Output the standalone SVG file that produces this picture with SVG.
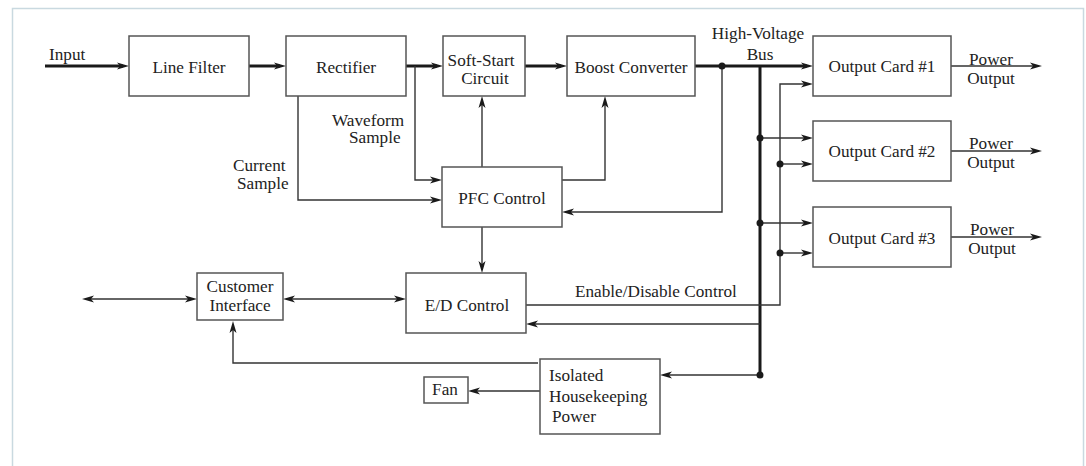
<svg xmlns="http://www.w3.org/2000/svg" width="1086" height="466" viewBox="0 0 1086 466">
<style>
.box{fill:#fff;stroke:#555;stroke-width:1.5}
.t{font-family:"Liberation Serif","Times New Roman",serif;font-size:17.2px;fill:#222}
.c{text-anchor:middle}
.thin{fill:none;stroke:#333;stroke-width:1.4}
.thick{fill:none;stroke:#1a1a1a;stroke-width:3}
.dot{fill:#1a1a1a}
</style>
<defs>
<marker id="ah" markerUnits="userSpaceOnUse" markerWidth="12" markerHeight="10" viewBox="0 0 12 10" refX="6" refY="5" orient="auto-start-reverse">
<path d="M0,1.5 L12,5 L0,8.5 L3,5 Z" fill="#1a1a1a"/>
</marker>
</defs>
<rect x="0" y="0" width="1086" height="466" fill="#fff"/>
<rect x="12.5" y="8.5" width="1071" height="470" fill="none" stroke="#c9d9e0" stroke-width="1.5"/>

<g id="connectors">
<path class="thick" d="M45,66 H123" marker-end="url(#ah)"/>
<path class="thick" d="M249,66 H280" marker-end="url(#ah)"/>
<path class="thick" d="M406,66 H437" marker-end="url(#ah)"/>
<path class="thick" d="M525,66 H561" marker-end="url(#ah)"/>
<path class="thick" d="M695,66 H807" marker-end="url(#ah)"/>
<path class="thick" d="M760,66 V375"/>
<path class="thin" d="M415,66 V180 H436" marker-end="url(#ah)"/>
<path class="thin" d="M298,96 V200 H436" marker-end="url(#ah)"/>
<path class="thin" d="M482,167 V102" marker-end="url(#ah)"/>
<path class="thin" d="M562,180 H605 V102" marker-end="url(#ah)"/>
<path class="thin" d="M722,66 V212 H568" marker-end="url(#ah)"/>
<path class="thin" d="M482,227 V267" marker-end="url(#ah)"/>
<path class="thin" d="M526,305 H780 V84 H807" marker-end="url(#ah)"/>
<path class="thin" d="M760,138 H807" marker-end="url(#ah)"/>
<path class="thin" d="M780,164 H807" marker-end="url(#ah)"/>
<path class="thin" d="M760,223 H807" marker-end="url(#ah)"/>
<path class="thin" d="M780,253 H807" marker-end="url(#ah)"/>
<path class="thin" d="M760,324 H532" marker-end="url(#ah)"/>
<path class="thin" d="M760,375 H666" marker-end="url(#ah)"/>
<path class="thin" d="M540,391 H474" marker-end="url(#ah)"/>
<path class="thin" d="M538,363 H233 V327" marker-end="url(#ah)"/>
<path class="thin" d="M88,299 H191" marker-start="url(#ah)" marker-end="url(#ah)"/>
<path class="thin" d="M289,299 H400" marker-start="url(#ah)" marker-end="url(#ah)"/>
<path class="thin" d="M951,66 H1036" marker-end="url(#ah)"/>
<path class="thin" d="M951,151 H1036" marker-end="url(#ah)"/>
<path class="thin" d="M951,237 H1036" marker-end="url(#ah)"/>
<circle class="dot" cx="722" cy="66" r="3.5"/>
<circle class="dot" cx="760" cy="138" r="3.5"/>
<circle class="dot" cx="760" cy="223" r="3.5"/>
<circle class="dot" cx="780" cy="164" r="3.5"/>
<circle class="dot" cx="780" cy="253" r="3.5"/>
<circle class="dot" cx="760" cy="375" r="3.5"/>
</g>

<g id="labels">
<text class="t" x="49" y="60">Input</text>
<text class="t c" x="758" y="39">High-Voltage</text>
<text class="t c" x="760" y="60">Bus</text>
<text class="t" x="332" y="125.5">Waveform</text>
<text class="t" x="349" y="143">Sample</text>
<text class="t" x="233" y="170.5">Current</text>
<text class="t" x="237" y="189">Sample</text>
<text class="t" x="575" y="296.5">Enable/Disable Control</text>
<text class="t c" x="991" y="64.5">Power</text>
<text class="t c" x="991" y="83.5">Output</text>
<text class="t c" x="991" y="149">Power</text>
<text class="t c" x="991" y="168">Output</text>
<text class="t c" x="992" y="235">Power</text>
<text class="t c" x="992" y="254">Output</text>
</g>

<g id="line-filter"><rect class="box" x="129" y="36" width="120" height="60"/><text class="t c" x="189" y="72.5">Line Filter</text></g>
<g id="rectifier"><rect class="box" x="286" y="36" width="120" height="60"/><text class="t c" x="346" y="72.5">Rectifier</text></g>
<g id="soft-start"><rect class="box" x="443" y="36" width="82" height="60"/><text class="t c" x="481" y="65.5">Soft-Start</text><text class="t c" x="485" y="84">Circuit</text></g>
<g id="boost"><rect class="box" x="567" y="36" width="128" height="60"/><text class="t c" x="631" y="72.5">Boost Converter</text></g>
<g id="card1"><rect class="box" x="813" y="36" width="138" height="60"/><text class="t c" x="882" y="72">Output Card #1</text></g>
<g id="card2"><rect class="box" x="813" y="121" width="138" height="60"/><text class="t c" x="882" y="157">Output Card #2</text></g>
<g id="card3"><rect class="box" x="813" y="207" width="138" height="60"/><text class="t c" x="882" y="244">Output Card #3</text></g>
<g id="pfc"><rect class="box" x="442" y="167" width="120" height="60"/><text class="t c" x="502" y="203.5">PFC Control</text></g>
<g id="ed"><rect class="box" x="406" y="273" width="120" height="60"/><text class="t c" x="467" y="311">E/D Control</text></g>
<g id="customer"><rect class="box" x="197" y="273" width="86" height="47"/><text class="t c" x="240" y="292">Customer</text><text class="t c" x="240" y="310.5">Interface</text></g>
<g id="housekeeping"><rect class="box" x="540" y="359" width="120" height="75"/><text class="t" x="549" y="380.5">Isolated</text><text class="t" x="549" y="401.5">Housekeeping</text><text class="t" x="552" y="421.5">Power</text></g>
<g id="fan"><rect class="box" x="424" y="377" width="44" height="26"/><text class="t c" x="445" y="395">Fan</text></g>
</svg>
